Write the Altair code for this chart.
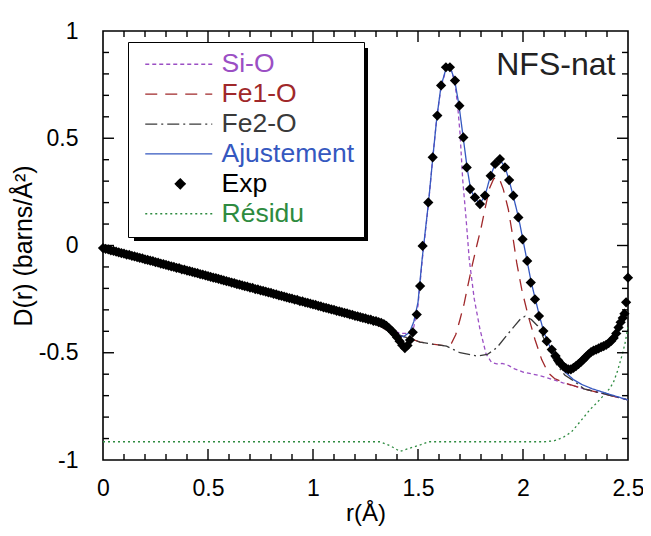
import altair as alt
import pandas as pd

# ---------------- data ----------------
exp_r = [0.0000, 0.0125, 0.0250, 0.0375, 0.0500, 0.0625, 0.0750, 0.0875, 0.1000, 0.1125,
         0.1250, 0.1375, 0.1500, 0.1625, 0.1750, 0.1875, 0.2000, 0.2125, 0.2250, 0.2375,
         0.2500, 0.2625, 0.2750, 0.2875, 0.3000, 0.3125, 0.3250, 0.3375, 0.3500, 0.3625,
         0.3750, 0.3875, 0.4000, 0.4125, 0.4250, 0.4375, 0.4500, 0.4625, 0.4750, 0.4875,
         0.5000, 0.5125, 0.5250, 0.5375, 0.5500, 0.5625, 0.5750, 0.5875, 0.6000, 0.6125,
         0.6250, 0.6375, 0.6500, 0.6625, 0.6750, 0.6875, 0.7000, 0.7125, 0.7250, 0.7375,
         0.7500, 0.7625, 0.7750, 0.7875, 0.8000, 0.8125, 0.8250, 0.8375, 0.8500, 0.8625,
         0.8750, 0.8875, 0.9000, 0.9125, 0.9250, 0.9375, 0.9500, 0.9625, 0.9750, 0.9875,
         1.0000, 1.0125, 1.0250, 1.0375, 1.0500, 1.0625, 1.0750, 1.0875, 1.1000, 1.1125,
         1.1250, 1.1375, 1.1500, 1.1625, 1.1750, 1.1875, 1.2000, 1.2125, 1.2250, 1.2375,
         1.2500, 1.2625, 1.2750, 1.2875, 1.3000, 1.3125, 1.3250, 1.3375,
         1.3500, 1.3625, 1.3750, 1.3875, 1.4000, 1.4125, 1.4250, 1.4375, 1.4500, 1.4620,
         1.4750, 1.4940, 1.5100, 1.5220, 1.5490, 1.5700, 1.5920, 1.6100, 1.6330, 1.6520,
         1.6760, 1.6970, 1.7160, 1.7320, 1.7480, 1.7710, 1.7950, 1.8190, 1.8460, 1.8670,
         1.8900, 1.9140, 1.9340, 1.9540, 1.9780, 1.9980, 2.0200, 2.0370, 2.0570, 2.0760,
         2.0970, 2.1130, 2.1370, 2.1550, 2.1680, 2.1800, 2.1920, 2.2040, 2.2160, 2.2280,
         2.2400, 2.2520, 2.2640, 2.2760, 2.2880, 2.3000, 2.3120, 2.3240, 2.3360, 2.3480,
         2.3600, 2.3720, 2.3840, 2.3960, 2.4080, 2.4200, 2.4320, 2.4440, 2.4550, 2.4650,
         2.4750, 2.4830, 2.4910, 2.5000]
exp_D = [-0.012, -0.016, -0.018, -0.023, -0.025, -0.029, -0.032, -0.035, -0.038, -0.042,
         -0.044, -0.048, -0.051, -0.054, -0.058, -0.060, -0.065, -0.067, -0.071, -0.073,
         -0.078, -0.080, -0.084, -0.087, -0.090, -0.094, -0.097, -0.100, -0.104, -0.106,
         -0.111, -0.113, -0.117, -0.120, -0.123, -0.127, -0.129, -0.134, -0.136, -0.139,
         -0.143, -0.146, -0.150, -0.152, -0.156, -0.159, -0.163, -0.166, -0.169, -0.173,
         -0.175, -0.180, -0.182, -0.186, -0.189, -0.192, -0.196, -0.198, -0.203, -0.205,
         -0.209, -0.212, -0.215, -0.219, -0.221, -0.226, -0.228, -0.232, -0.235, -0.238,
         -0.242, -0.245, -0.248, -0.252, -0.254, -0.259, -0.261, -0.265, -0.268, -0.271,
         -0.275, -0.277, -0.282, -0.284, -0.288, -0.291, -0.294, -0.298, -0.300, -0.305,
         -0.307, -0.311, -0.314, -0.317, -0.321, -0.323, -0.328, -0.330, -0.334, -0.337,
         -0.340, -0.344, -0.346, -0.351, -0.353, -0.357, -0.361, -0.366,
         -0.375, -0.386, -0.398, -0.412, -0.428, -0.446, -0.465, -0.478, -0.466, -0.440,
         -0.405, -0.322, -0.189, -0.002, 0.201, 0.411, 0.606, 0.746, 0.831, 0.831,
         0.769, 0.652, 0.504, 0.364, 0.263, 0.224, 0.193, 0.233, 0.325, 0.380,
         0.403, 0.364, 0.305, 0.232, 0.131, 0.029, -0.072, -0.173, -0.251, -0.329,
         -0.399, -0.446, -0.485, -0.515, -0.536, -0.551, -0.563, -0.572, -0.577, -0.577,
         -0.571, -0.562, -0.553, -0.542, -0.531, -0.519, -0.507, -0.497, -0.490, -0.485,
         -0.480, -0.474, -0.469, -0.463, -0.455, -0.445, -0.431, -0.410, -0.382, -0.358,
         -0.338, -0.318, -0.265, -0.150]

si_r = [1.30, 1.36, 1.42, 1.46, 1.48, 1.50, 1.52, 1.55, 1.57, 1.59, 1.61, 1.635,
        1.655, 1.675, 1.688, 1.70, 1.713, 1.729, 1.744, 1.768, 1.795, 1.824, 1.85,
        1.875, 1.90, 1.922, 1.96, 2.00, 2.05, 2.10, 2.19, 2.29, 2.40, 2.50]
si_D = [-0.365, -0.39, -0.41, -0.41, -0.38, -0.28, -0.07, 0.195, 0.405, 0.60, 0.74, 0.825,
        0.825, 0.765, 0.66, 0.525, 0.305, 0.125, -0.065, -0.25, -0.39, -0.505, -0.545,
        -0.552, -0.55, -0.555, -0.575, -0.59, -0.60, -0.612, -0.64, -0.668, -0.695, -0.72]

fe1_r = [1.30, 1.37, 1.45, 1.51, 1.57, 1.636, 1.66, 1.68, 1.70, 1.72, 1.74, 1.76,
         1.78, 1.80, 1.82, 1.84, 1.86, 1.875, 1.89, 1.906, 1.93, 1.951, 1.97, 1.994,
         2.025, 2.057, 2.089, 2.12, 2.15, 2.20, 2.29, 2.40, 2.50]
fe1_D = [-0.365, -0.405, -0.43, -0.45, -0.46, -0.469, -0.455, -0.415, -0.345, -0.27, -0.175, -0.085,
         0.0, 0.08, 0.175, 0.265, 0.31, 0.32, 0.305, 0.263, 0.169, 0.045, -0.08, -0.205,
         -0.329, -0.438, -0.532, -0.594, -0.62, -0.641, -0.669, -0.695, -0.72]

fe2_r = [1.30, 1.37, 1.45, 1.51, 1.57, 1.636, 1.70, 1.78, 1.83, 1.875, 1.92, 1.96,
         1.99, 2.01, 2.04, 2.07, 2.10, 2.13, 2.16, 2.20, 2.24, 2.29, 2.40, 2.50]
fe2_D = [-0.365, -0.405, -0.43, -0.45, -0.46, -0.469, -0.50, -0.515, -0.508, -0.477, -0.422, -0.375,
         -0.34, -0.33, -0.345, -0.375, -0.435, -0.505, -0.555, -0.605, -0.63, -0.668, -0.695, -0.72]

aj_r = [1.30, 1.34, 1.37, 1.40, 1.43, 1.46, 1.48, 1.50, 1.52, 1.55, 1.57, 1.59, 1.61,
        1.635, 1.655, 1.675, 1.695, 1.715, 1.735, 1.75, 1.77, 1.795, 1.82, 1.845, 1.87,
        1.89, 1.915, 1.935, 1.955, 1.98, 2.00, 2.02, 2.04, 2.06, 2.08, 2.10, 2.12, 2.14,
        2.17, 2.20, 2.24, 2.28, 2.33, 2.40, 2.45, 2.50]
aj_D = [-0.36, -0.38, -0.40, -0.415, -0.425, -0.405, -0.355, -0.265, -0.06, 0.20, 0.405, 0.60, 0.745,
        0.83, 0.828, 0.768, 0.655, 0.505, 0.355, 0.265, 0.22, 0.195, 0.235, 0.325, 0.385,
        0.40, 0.365, 0.30, 0.225, 0.125, 0.025, -0.075, -0.175, -0.255, -0.335, -0.405, -0.455, -0.495,
        -0.55, -0.59, -0.625, -0.648, -0.668, -0.69, -0.705, -0.72]

res_r = [0.0, 1.32, 1.37, 1.414, 1.46, 1.51, 1.55, 2.10, 2.15, 2.19, 2.23, 2.256,
         2.29, 2.319, 2.35, 2.383, 2.41, 2.43, 2.45, 2.462, 2.475, 2.486, 2.50]
res_D = [-0.915, -0.915, -0.935, -0.96, -0.945, -0.93, -0.915, -0.915, -0.91, -0.895, -0.87, -0.84,
         -0.80, -0.765, -0.735, -0.70, -0.67, -0.64, -0.585, -0.545, -0.50, -0.455, -0.38]

series_order = ["Si-O", "Fe1-O", "Fe2-O", "Ajustement", "Exp", "Résidu"]
series_colors = ["#9B4FC4", "#A0282A", "#3A3A3A", "#3558C0", "#000000", "#2E8B40"]
series_dashes = [[4, 3], [12, 8], [12, 4, 2, 4], [1, 0], [1, 0], [2, 3]]

x_ticks = [0, 0.5, 1, 1.5, 2, 2.5]
y_ticks = [-1, -0.5, 0, 0.5, 1]
x_major = [0.5, 1.0, 1.5, 2.0]
x_minor = [0.1, 0.2, 0.3, 0.4, 0.6, 0.7, 0.8, 0.9, 1.1, 1.2, 1.3, 1.4,
           1.6, 1.7, 1.8, 1.9, 2.1, 2.2, 2.3, 2.4]
y_major = [-0.5, 0.0, 0.5]
y_minor = [-0.9, -0.8, -0.7, -0.6, -0.4, -0.3, -0.2, -0.1,
           0.1, 0.2, 0.3, 0.4, 0.6, 0.7, 0.8, 0.9]

sample_label = ["NFS-nat"]
sample_r = [2.44]
sample_D = [0.84]

# ---------------- build tables ----------------
rows = []
for name, rr, dd in [("Résidu", res_r, res_D), ("Si-O", si_r, si_D),
                     ("Fe1-O", fe1_r, fe1_D), ("Fe2-O", fe2_r, fe2_D),
                     ("Ajustement", aj_r, aj_D)]:
    rows += [{"series": name, "r": a, "D": b} for a, b in zip(rr, dd)]
lines_df = pd.DataFrame(rows)
exp_df = pd.DataFrame({"series": ["Exp"] * len(exp_r), "r": exp_r, "D": exp_D})

W, H = 525, 429
FONT = "Liberation Sans"
MAJ, MIN = 11, 6
XMIN, XMAX, YMIN, YMAX = 0.0, 2.5, -1.0, 1.0

# inward tick bars on all four sides (tick length converted to data units)
dy = lambda L: (YMAX - YMIN) * L / H
dx = lambda L: (XMAX - XMIN) * L / W
xt_rows, yt_rows = [], []
for vals, L in [(x_major, MAJ), (x_minor, MIN)]:
    for v in vals:
        xt_rows.append({"r": v, "D": YMIN, "D2": YMIN + dy(L)})
        xt_rows.append({"r": v, "D": YMAX - dy(L), "D2": YMAX})
for vals, L in [(y_major, MAJ), (y_minor, MIN)]:
    for v in vals:
        yt_rows.append({"D": v, "r": XMIN, "r2": XMIN + dx(L)})
        yt_rows.append({"D": v, "r": XMAX - dx(L), "r2": XMAX})
xt_df = pd.DataFrame(xt_rows)
yt_df = pd.DataFrame(yt_rows)

X = alt.X("r:Q", scale=alt.Scale(domain=[XMIN, XMAX], nice=False, zero=False, padding=0),
          axis=alt.Axis(values=x_ticks, title="r(Å)", ticks=False, domain=False, grid=False,
                        labelFlush=False, labelPadding=17, labelFontSize=23, titleFontSize=24,
                        titleFontWeight="normal", labelExpr="datum.value + ''", titlePadding=1))
Y = alt.Y("D:Q", scale=alt.Scale(domain=[YMIN, YMAX], nice=False, zero=False, padding=0),
          axis=alt.Axis(values=y_ticks, title="D(r) (barns/Å²)", ticks=False, domain=False, grid=False,
                        labelFlush=False, labelPadding=25, labelFontSize=23, titleFontSize=25,
                        titleFontWeight="normal", labelExpr="datum.value + ''", titlePadding=2))

color_scale = alt.Scale(domain=series_order, range=series_colors)
dash_scale = alt.Scale(domain=series_order, range=series_dashes)


def case(mapping, default):
    s = default
    for k, v in reversed(list(mapping.items())):
        s = f"datum.value == '{k}' ? {v} : ({s})"
    return s


label_color_expr = case({k: f"'{c}'" for k, c in zip(series_order, series_colors)}, "'black'")
dash_expr = case({k: str(d) for k, d in zip(series_order, series_dashes)}, "[1,0]")
shape_expr = "datum.value == 'Exp' ? 'M5,0L6,-1L7,0L6,1Z' : 'M-1,0H12.4'"
fill_expr = "datum.value == 'Exp' ? 'black' : 'transparent'"

LX, LY, LW, LH = 25, 11, 234, 193
SH = 6

legend = alt.Legend(title=None, orient="none", legendX=LX, legendY=LY,
                    fillColor="white", strokeColor="black", padding=9,
                    labelFont=FONT, labelFontSize=26.5, labelOffset=58, labelLimit=400,
                    symbolSize=100, symbolStrokeWidth=1.3, rowPadding=2.9,
                    symbolType=alt.ExprRef(expr=shape_expr),
                    symbolDash=alt.ExprRef(expr=dash_expr),
                    symbolFillColor=alt.ExprRef(expr=fill_expr),
                    labelColor=alt.ExprRef(expr=label_color_expr))

shadow = alt.Chart(pd.DataFrame({"k": [0]})).mark_rect(color="black").encode(
    x=alt.value(LX + SH), x2=alt.value(LX + LW + SH),
    y=alt.value(LY + SH), y2=alt.value(LY + LH + SH))

lines = alt.Chart(lines_df).mark_line(strokeWidth=1.3, clip=True).encode(
    x=X, y=Y,
    color=alt.Color("series:N", scale=color_scale, legend=legend),
    strokeDash=alt.StrokeDash("series:N", scale=dash_scale, legend=None),
    detail="series:N")

points = alt.Chart(exp_df).mark_point(shape="diamond", filled=True, size=105, opacity=1).encode(
    x=X, y=Y, color=alt.Color("series:N", scale=color_scale, legend=None))

label = alt.Chart(pd.DataFrame({"t": sample_label, "r": sample_r, "D": sample_D})).mark_text(
    align="right", baseline="middle", font=FONT, fontSize=32, color="#222").encode(
    x=X, y=Y, text="t:N")

xticks = alt.Chart(xt_df).mark_bar(color="black", width=1.4, orient="vertical").encode(
    x=X, y=Y, y2="D2:Q")
yticks = alt.Chart(yt_df).mark_bar(color="black", height=1.4, orient="horizontal").encode(
    y=Y, x=X, x2="r2:Q")

chart = alt.layer(shadow, lines, points, label, xticks, yticks).properties(
    width=W, height=H,
    padding={"left": 95, "top": 23, "right": 15, "bottom": 68},
    autosize=alt.AutoSizeParams(type="none"),
).configure_view(stroke="black", strokeWidth=1.6).configure_axis(
    labelFont=FONT, titleFont=FONT, labelColor="black", titleColor="black")

chart.save("out.html", embed_options={"renderer": "svg", "actions": False})
